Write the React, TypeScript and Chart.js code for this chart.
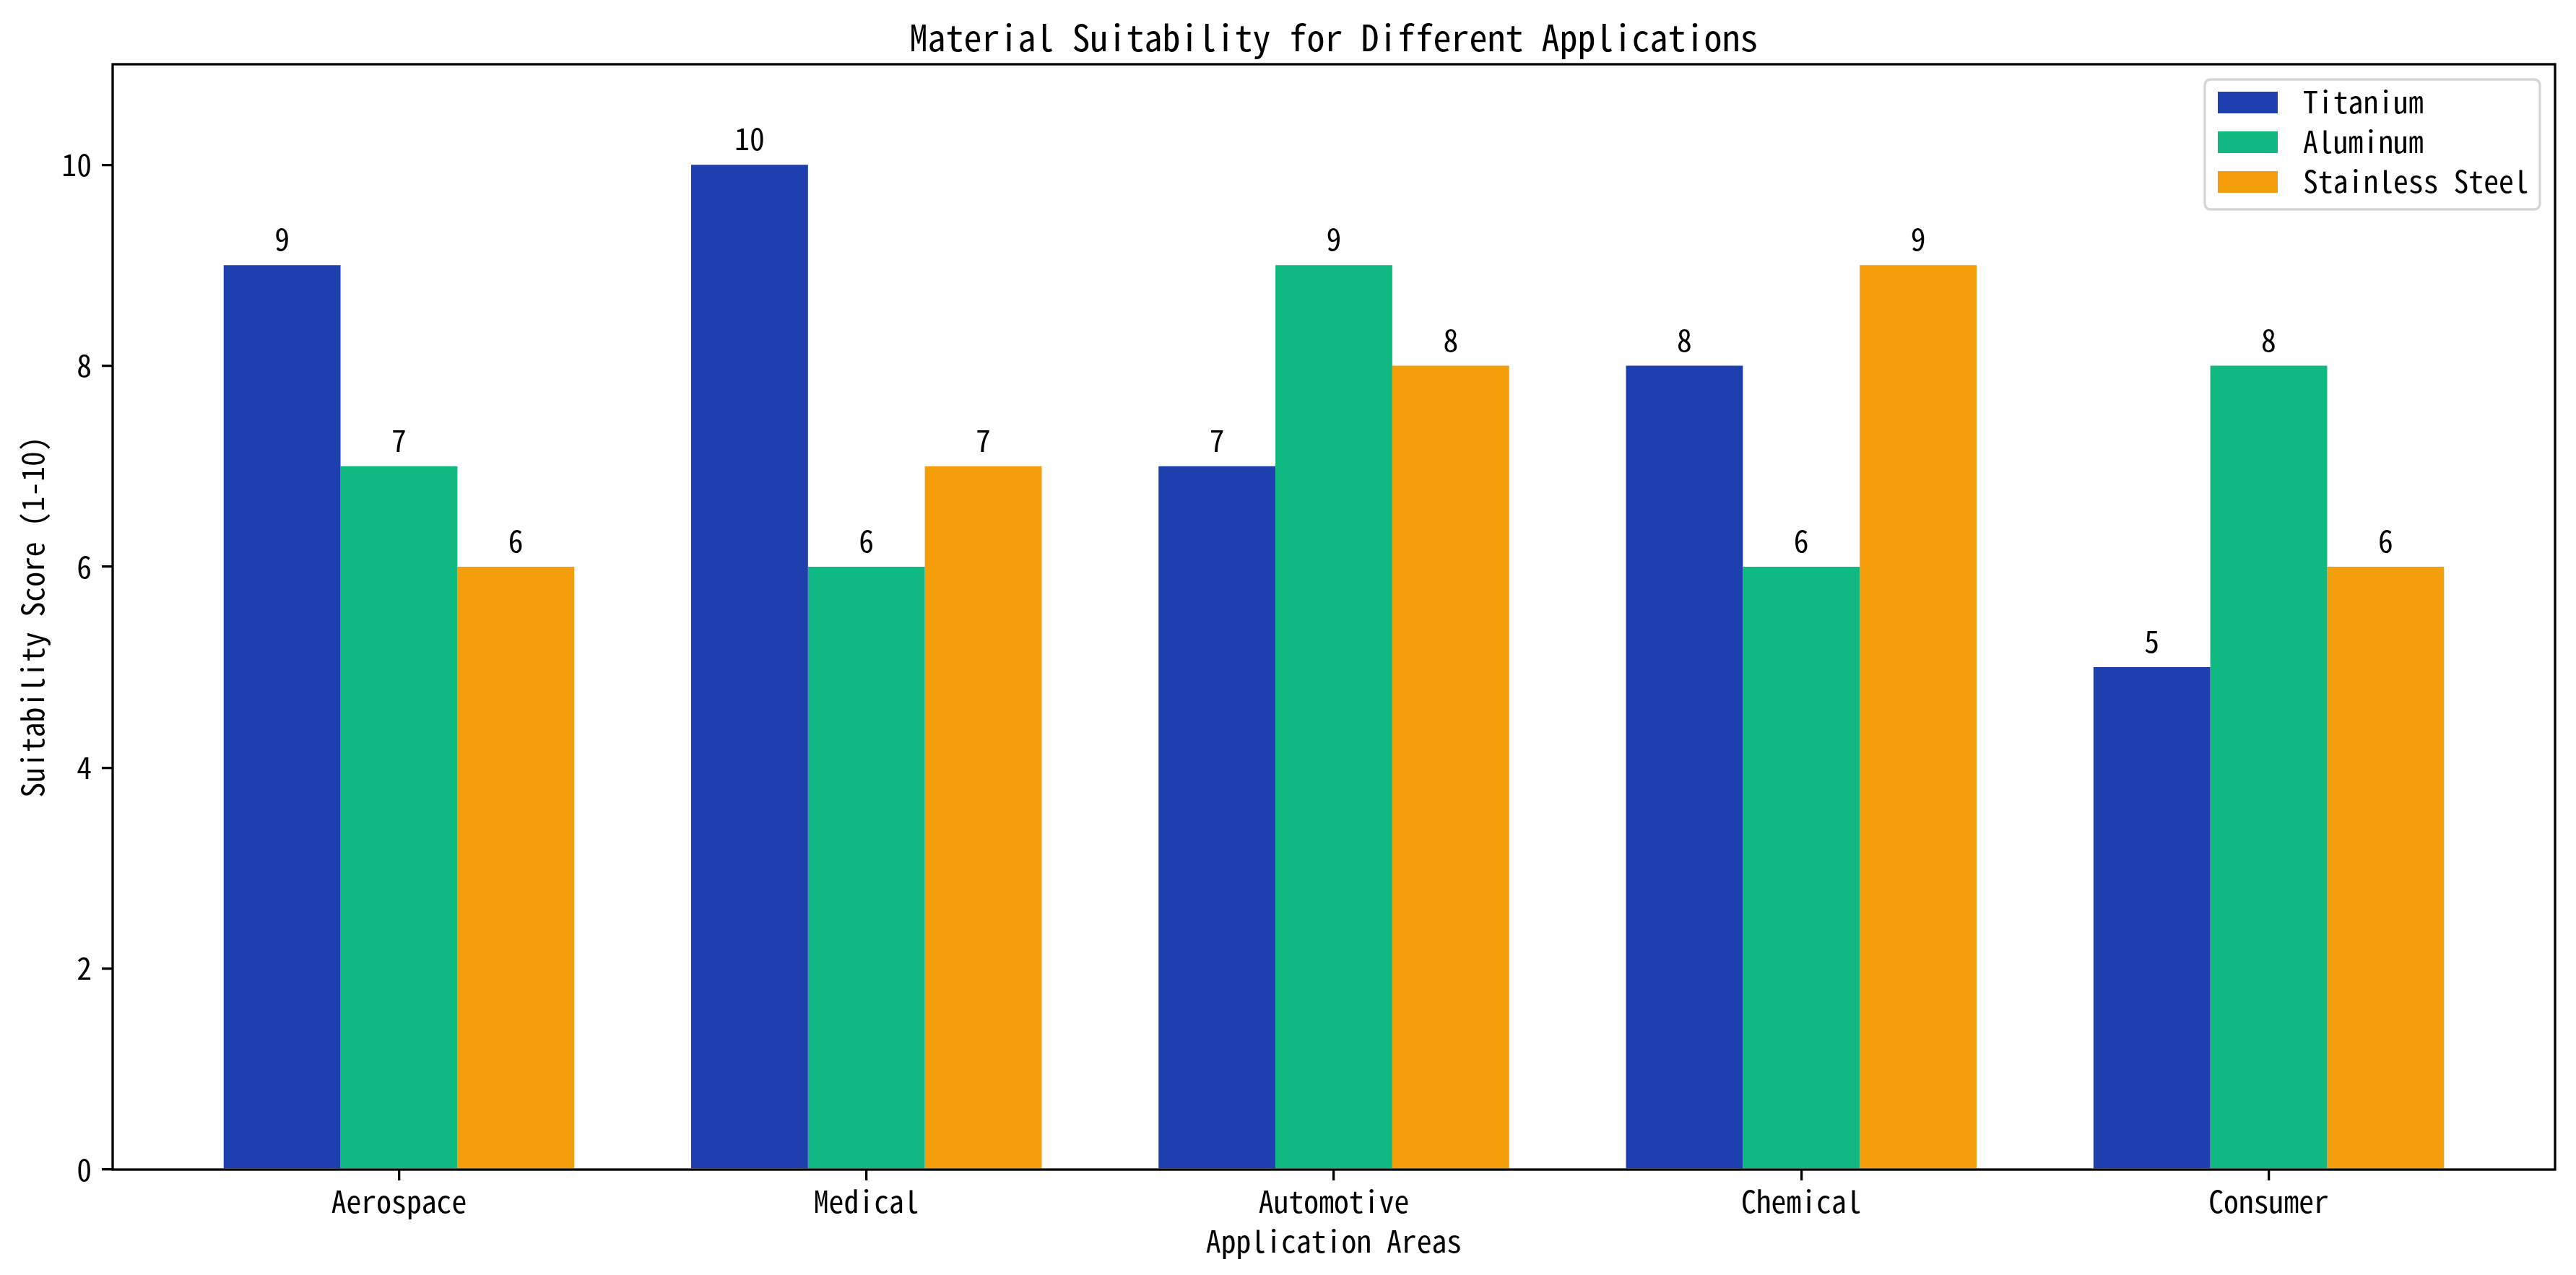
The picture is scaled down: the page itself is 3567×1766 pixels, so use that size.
import React, { useEffect, useRef } from "react";
import { Chart, registerables } from "chart.js";

Chart.register(...registerables);

const categories = ["Aerospace", "Medical", "Automotive", "Chemical", "Consumer"];
const seriesNames = ["Titanium", "Aluminum", "Stainless Steel"];
const titanium = [9, 10, 7, 8, 5];
const aluminum = [7, 6, 9, 6, 8];
const stainless = [6, 7, 8, 9, 6];
const yTicks = [0, 2, 4, 6, 8, 10];
const seriesColors = ["#1e40af", "#10b981", "#f59e0b"];

const chartTitle = "Material Suitability for Different Applications";
const xTitle = "Application Areas";
const yTitle = "Suitability Score (1-10)";

const W = 3567;
const H = 1766;
const FONT = "'Noto Sans Mono CJK SC', 'Noto Sans Mono CJK JP', 'DejaVu Sans Mono', monospace";
const TICK_PX = 41.7;
const TITLE_PX = 50;
const SPINE = 3.3;

const overlayPlugin = {
  id: "overlay",
  afterDatasetsDraw(chart: any) {
    const { ctx, scales } = chart;
    const ys = scales.y;
    ctx.save();
    ctx.fillStyle = "#000";
    ctx.font = `${TICK_PX}px ${FONT}`;
    ctx.textAlign = "center";
    ctx.textBaseline = "alphabetic";
    chart.data.datasets.forEach((ds: any, di: number) => {
      const meta = chart.getDatasetMeta(di);
      meta.data.forEach((el: any, i: number) => {
        const v = ds.data[i].y;
        const y = ys.getPixelForValue(v + 0.1) - 6;
        ctx.fillText(String(v), el.x, y);
      });
    });
    ctx.restore();
  },
  afterDraw(chart: any) {
    const { ctx, chartArea: a } = chart;
    ctx.save();
    // spines
    ctx.strokeStyle = "#000";
    ctx.lineWidth = SPINE;
    ctx.strokeRect(a.left, a.top, a.right - a.left, a.bottom - a.top);

    // title
    ctx.fillStyle = "#000";
    ctx.font = `${TITLE_PX}px ${FONT}`;
    ctx.textAlign = "center";
    ctx.textBaseline = "alphabetic";
    ctx.fillText(chartTitle, (a.left + a.right) / 2, 71);

    // x title
    ctx.font = `${TICK_PX}px ${FONT}`;
    ctx.fillText(xTitle, (a.left + a.right) / 2, 1735);

    // y title
    ctx.save();
    ctx.translate(61, (a.top + a.bottom) / 2);
    ctx.rotate(-Math.PI / 2);
    ctx.fillText(yTitle, 0, 0);
    ctx.restore();

    // legend
    const lx = 3053, ly = 110, lw = 464, lh = 180, r = 9;
    ctx.beginPath();
    ctx.moveTo(lx + r, ly);
    ctx.lineTo(lx + lw - r, ly);
    ctx.quadraticCurveTo(lx + lw, ly, lx + lw, ly + r);
    ctx.lineTo(lx + lw, ly + lh - r);
    ctx.quadraticCurveTo(lx + lw, ly + lh, lx + lw - r, ly + lh);
    ctx.lineTo(lx + r, ly + lh);
    ctx.quadraticCurveTo(lx, ly + lh, lx, ly + lh - r);
    ctx.lineTo(lx, ly + r);
    ctx.quadraticCurveTo(lx, ly, lx + r, ly);
    ctx.closePath();
    ctx.fillStyle = "rgba(255,255,255,0.8)";
    ctx.fill();
    ctx.strokeStyle = "#d6d6d6";
    ctx.lineWidth = 3.3;
    ctx.stroke();

    ctx.textAlign = "left";
    seriesNames.forEach((name, i) => {
      const base = 157 + i * 55;
      ctx.fillStyle = seriesColors[i];
      ctx.fillRect(3071, base - 30, 83, 30);
      ctx.fillStyle = "#000";
      ctx.fillText(name, 3189, base);
    });
    ctx.restore();
  },
};

export default function App() {
  const ref = useRef<HTMLCanvasElement | null>(null);

  useEffect(() => {
    document.body.style.margin = "0";
    let chart: Chart | null = null;
    let cancelled = false;
    const build = () => {
      if (cancelled || !ref.current) return;
      const seriesValues = [titanium, aluminum, stainless];
      chart = new Chart(ref.current, {
        type: "bar",
        data: {
          datasets: seriesNames.map((name, si) => ({
            label: name,
            data: categories.map((_, ci) => ({ x: ci, y: seriesValues[si][ci] })),
            backgroundColor: seriesColors[si],
            borderWidth: 0,
            categoryPercentage: 0.75,
            barPercentage: 1.0,
          })),
        },
        options: {
          animation: false,
          responsive: false,
          devicePixelRatio: 1,
          layout: { padding: { top: 89, right: 29, left: 0, bottom: 0 } },
          plugins: {
            legend: { display: false },
            title: { display: false },
            tooltip: { enabled: false },
          },
          scales: {
            x: {
              type: "linear",
              min: -0.6125,
              max: 4.6125,
              offset: false,
              afterFit: (s: any) => {
                s.height = 146;
              },
              afterBuildTicks: (s: any) => {
                s.ticks = categories.map((_, i) => ({ value: i }));
              },
              ticks: {
                color: "#000",
                font: { family: FONT, size: TICK_PX },
                padding: 4,
                maxRotation: 0,
                autoSkip: false,
                callback: (v: any) => categories[v] ?? "",
              },
              grid: {
                offset: false,
                drawOnChartArea: false,
                drawTicks: true,
                tickLength: 15,
                color: "#000",
                lineWidth: SPINE,
              },
              border: { display: false },
            },
            y: {
              type: "linear",
              min: 0,
              max: 11,
              afterFit: (s: any) => {
                s.width = 156;
              },
              afterBuildTicks: (s: any) => {
                s.ticks = yTicks.map((v) => ({ value: v }));
              },
              ticks: {
                color: "#000",
                font: { family: FONT, size: TICK_PX },
                padding: 14,
                callback: (v: any) => String(v),
              },
              grid: {
                offset: false,
                drawOnChartArea: false,
                drawTicks: true,
                tickLength: 15,
                color: "#000",
                lineWidth: SPINE,
              },
              border: { display: false },
            },
          },
        },
        plugins: [overlayPlugin],
      });
    };
    const fontsApi: any = (document as any).fonts;
    if (fontsApi && fontsApi.load) {
      Promise.all([
        fontsApi.load(`${TICK_PX}px 'Noto Sans Mono CJK SC'`),
        fontsApi.load(`${TICK_PX}px 'DejaVu Sans Mono'`),
      ])
        .catch(() => null)
        .then(build);
    } else {
      build();
    }
    return () => {
      cancelled = true;
      if (chart) chart.destroy();
    };
  }, []);

  return (
    <div style={{ width: W, height: H }}>
      <canvas ref={ref} width={W} height={H} style={{ display: "block", width: W, height: H }} />
    </div>
  );
}
